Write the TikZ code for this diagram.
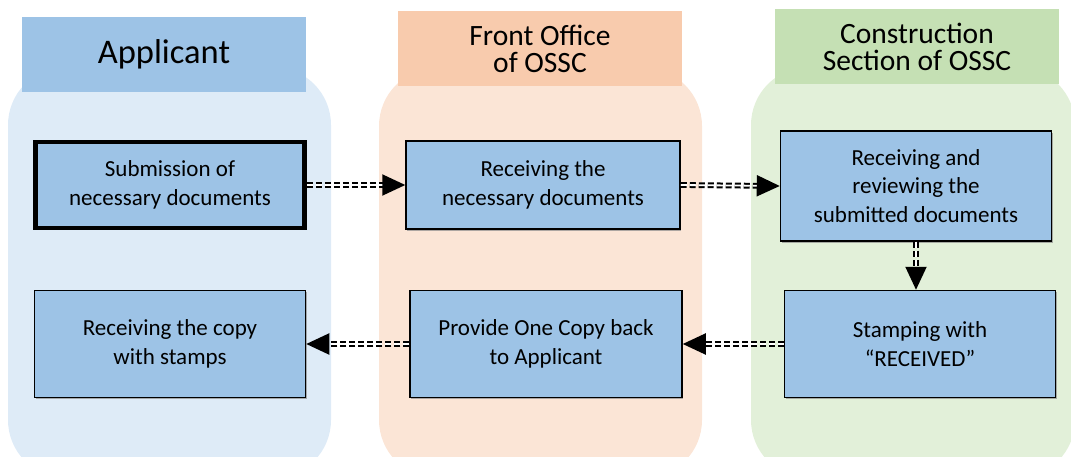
\documentclass[tikz,border=0pt]{standalone}
\usepackage{fontspec}
\setmainfont{Carlito}
\usetikzlibrary{arrows.meta,shadows}
\definecolor{boxblue}{HTML}{9DC3E6}
\definecolor{laneA}{HTML}{DEEBF7}
\definecolor{laneB}{HTML}{FBE5D6}
\definecolor{laneC}{HTML}{E2F0D9}
\definecolor{headB}{HTML}{F8CBAD}
\definecolor{headC}{HTML}{C5E0B4}
\begin{document}
\begin{tikzpicture}[x=1pt,y=-1pt,
  lane/.style={rounded corners=58pt},
  hdr/.style={inner sep=0pt, align=center, font=\fontsize{29.5}{27}\selectfont, minimum width=284pt, minimum height=75pt},
  box/.style={draw=black, line width=1.5pt, fill=boxblue, align=center, inner sep=0pt,
    font=\fontsize{23}{28.5}\selectfont,
    drop shadow={shadow xshift=1.2pt, shadow yshift=-1.8pt, fill=black!45, opacity=0.7}},
  flow/.style={double=white, double distance=1.8pt, line width=2pt, dash pattern=on 6pt off 3pt,
    -{Triangle[length=23pt,width=21pt]}}
]
\useasboundingbox (0,0) rectangle (1071,457);
\clip (0,0) rectangle (1071,457);
% lanes
\fill[laneA, lane] (8,67) rectangle (331,478);
\fill[laneB, lane] (379,68) rectangle (702,478);
\fill[laneC, lane] (751,67) rectangle (1075,478);
% headers
\node[hdr, fill=boxblue, font=\fontsize{34.5}{36}\selectfont] (h1) at (164,54.5) {Applicant};
\node[hdr, fill=headB] (h2) at (540,49) {Front Office\\of OSSC};
\node[hdr, fill=headC] (h3) at (917,47) {Construction\\Section of OSSC};
% boxes
\node[box, line width=4.5pt, minimum width=269pt, minimum height=86pt] (b1) at (170,185) {Submission of\\necessary documents};
\node[box, minimum width=274pt, minimum height=88pt] (b2) at (543,185) {Receiving the\\necessary documents};
\node[box, minimum width=271pt, minimum height=110pt] (b3) at (916,186) {Receiving and\\reviewing the\\submitted documents};
\node[box, minimum width=271pt, minimum height=107pt] (b4) at (170,344) {Receiving the copy\\with stamps};
\node[box, minimum width=272pt, minimum height=107pt] (b5) at (546,344) {Provide One Copy back\\to Applicant};
\node[box, minimum width=271pt, minimum height=107pt] (b6) at (920,344) {Stamping with\\“RECEIVED”};
% connectors
\draw[flow] (b1.east) -- (b2.west);
\draw[flow] (b2.east) -- (b3.west);
\draw[flow] (b3.south) -- (b3.south |- b6.north);
\draw[flow] (b6.west) -- (b5.east);
\draw[flow] (b5.west) -- (b4.east);
\end{tikzpicture}
\end{document}
